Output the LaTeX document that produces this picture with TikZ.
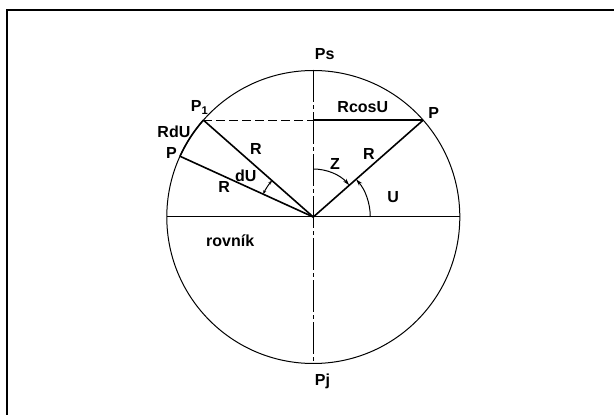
\documentclass[tikz,border=0pt]{standalone}
\usepackage{fontspec}
\setmainfont{Liberation Sans}
\usetikzlibrary{arrows.meta,positioning,calc}

\tikzset{
  lbl/.style={font=\fontsize{16}{19}\selectfont\bfseries,inner sep=0pt,anchor=base west},
  radiusline/.style={line width=1.6pt},
  thinline/.style={line width=1pt},
  axisline/.style={line width=1pt,dash pattern=on 32pt off 3pt on 4pt off 3pt},
  angarrow/.style={line width=1pt,-{Stealth[length=7pt,width=4pt]}}
}

\begin{document}
\begin{tikzpicture}[x=1pt,y=1pt]
\useasboundingbox (-313.3,-198) rectangle (300.7,217);
% frame, only its left and top edges are on the page
\draw[line width=2pt] (-305.8,-205) -- (-305.8,207) -- (310,207);

\coordinate (O) at (0,0);
\coordinate (N) at (90:146.5);
\coordinate (S) at (270:146.5);
\coordinate (W) at (180:146.5);
\coordinate (E) at (0:146.5);
\coordinate (P) at (41.4:146.5);
\coordinate (P1) at (138.6:146.5);
\coordinate (P2) at (155.5:146.5);
\coordinate (Q) at (O |- P);

\draw[thinline] (O) circle[radius=146.5];
\draw[thinline] (W) -- (E);
\draw[axisline] (N) -- (S);

% radii and the cosine line
\draw[radiusline] (O) -- (P);
\draw[radiusline] (O) -- (P1);
\draw[radiusline] (O) -- (P2);
\draw[radiusline] (Q) -- (P);
\draw[thinline,dash pattern=on 9pt off 4pt] (P1) -- (Q);
\draw[radiusline] (P2) arc[start angle=155.5,end angle=138.6,radius=146.5];

% angles
\draw[angarrow] (90:48) arc[start angle=90,end angle=41.4,radius=48];
\draw[angarrow] (0:57) arc[start angle=0,end angle=41.4,radius=57];
\draw[thinline,{Stealth[length=4pt,width=3pt]}-{Stealth[length=4pt,width=3pt]}]
  (155.5:55) arc[start angle=155.5,end angle=138.6,radius=55];

\node[lbl] (lPs) at (1.4,157.7) {Ps};
\node[lbl] (lPj) at (1.4,-169) {Pj};
\node[lbl] (lRcos) at (24,104.3) {RcosU};
\node[lbl] (lP) at (115,98.7) {P};
\node[lbl] (lR) at (49.7,57.7) {R};
\node[lbl] (lZ) at (16.7,47) {Z};
\node[lbl] (lU) at (74,14.3) {U};
\node[lbl] (lP1) at (-122.6,105.3) {P\textsubscript{1}};
\node[lbl] (lRdU) at (-156,79.7) {RdU};
\node[lbl] (lP2) at (-147.3,58) {P};
\node[lbl] (lR1) at (-63.3,62) {R};
\node[lbl] (ldU) at (-78.3,35.3) {dU};
\node[lbl] (lR2) at (-95,24.3) {R};
\node[lbl] (lrov) at (-107.3,-29.7) {rovník};
\end{tikzpicture}
\end{document}
